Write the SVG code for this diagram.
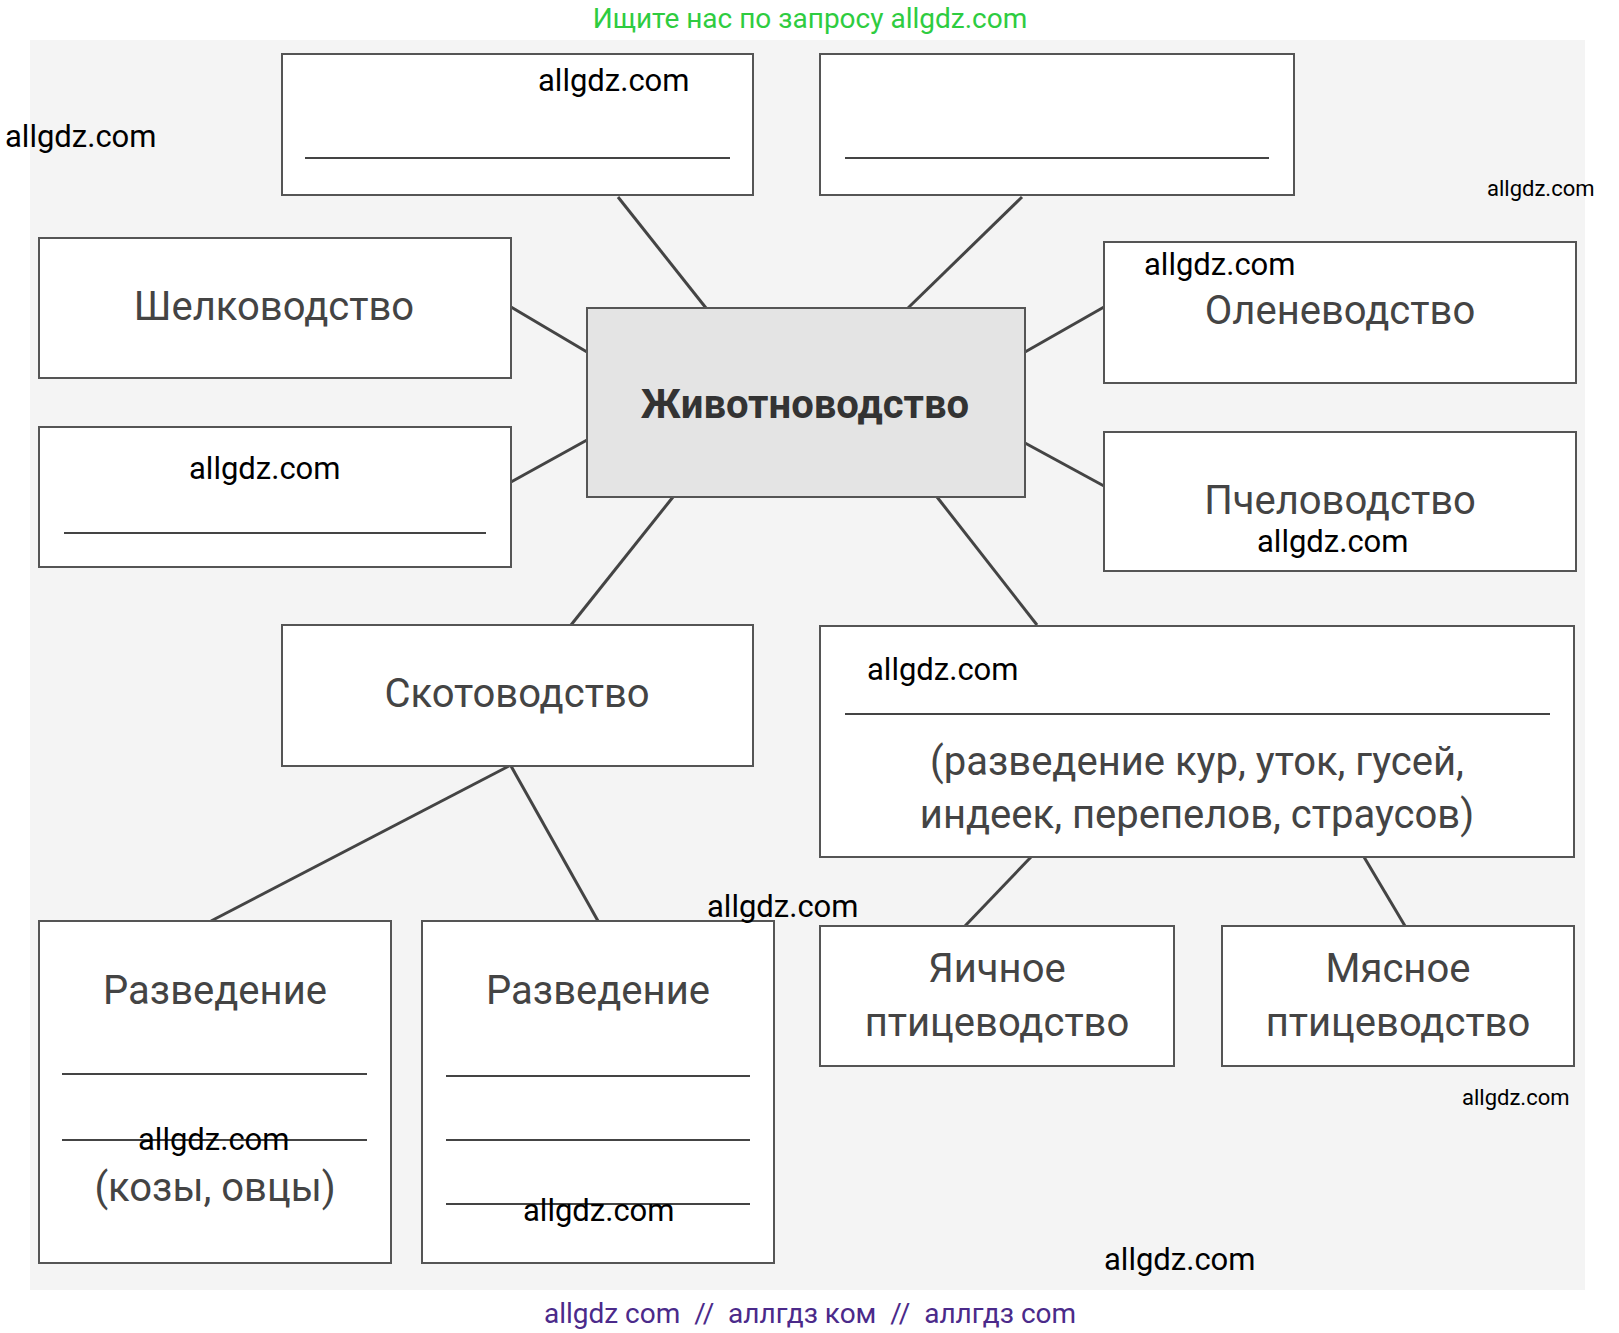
<svg xmlns="http://www.w3.org/2000/svg" width="1619" height="1333" viewBox="0 0 1619 1333">
<style>
.b{fill:#fff;stroke:#555;stroke-width:2}
.c{fill:#e4e4e4;stroke:#555;stroke-width:2}
.t{font-family:Roboto,"Liberation Sans",sans-serif;font-size:40px;fill:#444;text-anchor:middle}
.bl{stroke:#444;stroke-width:2}
.w{font-family:Roboto,"Liberation Sans",sans-serif;font-size:31px;fill:#000}
.ws{font-family:Roboto,"Liberation Sans",sans-serif;font-size:22px;fill:#000}
#conn line{stroke:#444;stroke-width:3}
</style>
<rect width="1619" height="1333" fill="#fff"/>
<rect x="30" y="40" width="1555" height="1250" fill="#f4f4f4"/>
<g id="conn">
<line x1="618" y1="197" x2="706" y2="308"/>
<line x1="1022" y1="197" x2="908" y2="308"/>
<line x1="511" y1="307" x2="587" y2="352"/>
<line x1="511" y1="482" x2="587" y2="440"/>
<line x1="1025" y1="352" x2="1104" y2="307"/>
<line x1="1025" y1="443" x2="1104" y2="486"/>
<line x1="673" y1="497" x2="571" y2="625"/>
<line x1="937" y1="497" x2="1037" y2="625"/>
<line x1="509" y1="766" x2="211" y2="921"/>
<line x1="511" y1="766" x2="598" y2="921"/>
<line x1="1031" y1="857" x2="965" y2="926"/>
<line x1="1364" y1="857" x2="1405" y2="926"/>
</g>
<g id="top1"><rect class="b" x="282" y="54" width="471" height="141"/><line class="bl" x1="305" y1="158" x2="730" y2="158"/></g>
<g id="top2"><rect class="b" x="820" y="54" width="474" height="141"/><line class="bl" x1="845" y1="158" x2="1269" y2="158"/></g>
<g id="silk"><rect class="b" x="39" y="238" width="472" height="140"/><text class="t" x="274" y="320">Шелководство</text></g>
<g id="blank"><rect class="b" x="39" y="427" width="472" height="140"/><line class="bl" x1="64" y1="533" x2="486" y2="533"/></g>
<g id="center"><rect class="c" x="587" y="308" width="438" height="189"/><text class="t" x="805" y="418" style="font-weight:bold;fill:#333">Животноводство</text></g>
<g id="deer"><rect class="b" x="1104" y="242" width="472" height="141"/><text class="t" x="1340" y="324">Оленеводство</text></g>
<g id="bee"><rect class="b" x="1104" y="432" width="472" height="139"/><text class="t" x="1340" y="514">Пчеловодство</text></g>
<g id="cattle"><rect class="b" x="282" y="625" width="471" height="141"/><text class="t" x="517" y="707">Скотоводство</text></g>
<g id="poultry"><rect class="b" x="820" y="626" width="754" height="231"/><line class="bl" x1="845" y1="714" x2="1550" y2="714"/><text class="t" x="1197" y="775">(разведение кур, уток, гусей,</text><text class="t" x="1197" y="828">индеек, перепелов, страусов)</text></g>
<g id="breed1"><rect class="b" x="39" y="921" width="352" height="342"/><text class="t" x="215" y="1004">Разведение</text><line class="bl" x1="62" y1="1074" x2="367" y2="1074"/><line class="bl" x1="62" y1="1140" x2="367" y2="1140"/><text class="t" x="215" y="1201">(козы, овцы)</text></g>
<g id="breed2"><rect class="b" x="422" y="921" width="352" height="342"/><text class="t" x="598" y="1004">Разведение</text><line class="bl" x1="446" y1="1076" x2="750" y2="1076"/><line class="bl" x1="446" y1="1140" x2="750" y2="1140"/><line class="bl" x1="446" y1="1204" x2="750" y2="1204"/></g>
<g id="egg"><rect class="b" x="820" y="926" width="354" height="140"/><text class="t" x="997" y="982">Яичное</text><text class="t" x="997" y="1036">птицеводство</text></g>
<g id="meat"><rect class="b" x="1222" y="926" width="352" height="140"/><text class="t" x="1398" y="982">Мясное</text><text class="t" x="1398" y="1036">птицеводство</text></g>
<g id="wm">
<text x="810" y="28" style="font-family:Roboto,'Liberation Sans',sans-serif;font-size:28px;fill:#2ecc40;text-anchor:middle">Ищите нас по запросу allgdz.com</text>
<text class="w" x="538" y="91">allgdz.com</text>
<text class="w" x="5" y="147">allgdz.com</text>
<text class="ws" x="1487" y="196">allgdz.com</text>
<text class="w" x="1144" y="275">allgdz.com</text>
<text class="w" x="189" y="479">allgdz.com</text>
<text class="w" x="1257" y="552">allgdz.com</text>
<text class="w" x="867" y="680">allgdz.com</text>
<text class="w" x="707" y="917">allgdz.com</text>
<text class="ws" x="1462" y="1105">allgdz.com</text>
<text class="w" x="138" y="1150">allgdz.com</text>
<text class="w" x="523" y="1221">allgdz.com</text>
<text class="w" x="1104" y="1270">allgdz.com</text>
<text x="810" y="1323" xml:space="preserve" style="font-family:Roboto,'Liberation Sans',sans-serif;font-size:28px;fill:#4b2a8a;text-anchor:middle;white-space:pre">allgdz com  //  аллгдз ком  //  аллгдз com</text>
</g>
</svg>
